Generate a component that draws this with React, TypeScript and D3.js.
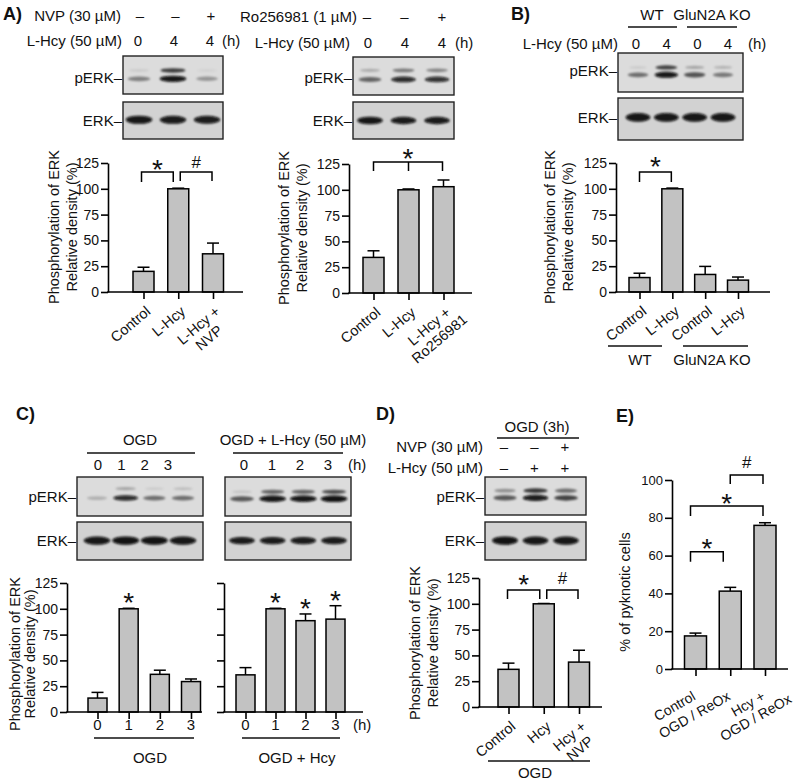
import React, { useEffect, useRef } from "react";
import * as d3 from "d3";

// ================= DATA =================
const ercTicks = [0, 25, 50, 75, 100, 125];
const pyknoticTicks = [0, 20, 40, 60, 80, 100];
const ercTitle = ["Phosphorylation of ERK", "Relative density (%)"];

// Panel A (left)
const aLeftCategories = ["Control", "L-Hcy", "L-Hcy +\nNVP"];
const aLeftValues = [20, 100, 37];
const aLeftErrors = [4, 0.6, 10.4];
const aLeftNvp = ["–", "–", "+"];
const aLeftHcy = ["0", "4", "4"];
const aLeftPerkUpper = [0.08, 0.72, 0.05];
const aLeftPerkLower = [0.42, 0.95, 0.32];
const aLeftErk = [0.95, 0.93, 0.92];

// Panel A (right)
const aRightCategories = ["Control", "L-Hcy", "L-Hcy +\nRo256981"];
const aRightValues = [34.5, 100, 103];
const aRightErrors = [6.4, 0.8, 6.5];
const aRightRo = ["–", "–", "+"];
const aRightHcy = ["0", "4", "4"];
const aRightPerkUpper = [0.22, 0.45, 0.4];
const aRightPerkLower = [0.55, 0.85, 0.82];
const aRightErk = [0.95, 0.93, 0.93];

// Panel B
const bCategories = ["Control", "L-Hcy", "Control", "L-Hcy"];
const bGroups = ["WT", "GluN2A KO"];
const bValues = [14, 100, 17, 11.5];
const bErrors = [4.2, 0.7, 7.8, 3];
const bHcy = ["0", "4", "0", "4"];
const bPerkUpper = [0.08, 0.7, 0.25, 0.18];
const bPerkLower = [0.5, 0.95, 0.62, 0.45];
const bErk = [0.95, 0.95, 0.95, 0.95];

// Panel C
const cTimes = ["0", "1", "2", "3"];
const cGroups = ["OGD", "OGD + Hcy"];
const cBlotGroups = ["OGD", "OGD + L-Hcy (50 µM)"];
const cOgdValues = [13.5, 100, 36.5, 29.5];
const cOgdErrors = [5.5, 0.5, 4, 2.5];
const cOgdStars = [1];
const cHcyValues = [36, 100, 88.5, 90];
const cHcyErrors = [7, 0.5, 6.5, 13];
const cHcyStars = [1, 2, 3];
const cOgdPerkUpper = [0.0, 0.25, 0.08, 0.14];
const cOgdPerkLower = [0.2, 0.85, 0.5, 0.5];
const cHcyPerkUpper = [0.1, 0.55, 0.55, 0.65];
const cHcyPerkLower = [0.6, 0.95, 0.95, 0.97];
const cOgdErk = [0.95, 0.97, 0.97, 0.95];
const cHcyErk = [0.93, 0.93, 0.93, 0.93];

// Panel D
const dCategories = ["Control", "Hcy", "Hcy +\nNVP"];
const dValues = [36.5, 100, 43.5];
const dErrors = [6, 0.3, 11.5];
const dNvp = ["–", "–", "+"];
const dHcy = ["–", "+", "+"];
const dPerkUpper = [0.35, 0.75, 0.5];
const dPerkLower = [0.6, 0.92, 0.7];
const dErk = [0.97, 0.95, 0.95];

// Panel E
const eCategories = ["Control", "OGD / ReOx", "Hcy +\nOGD / ReOx"];
const eValues = [17.5, 41.2, 76];
const eErrors = [1.5, 2, 1.4];

// ================= STYLE =================
const FONT = "'Liberation Sans', Arial, Helvetica, sans-serif";
const BAR_FILL = "#c2c2c2";
const INK = "#111";

type Sel = d3.Selection<any, any, any, any>;

function txt(g: Sel, x: number, y: number, s: string, size = 15, anchor = "start", weight = "normal") {
  return g
    .append("text")
    .attr("x", x)
    .attr("y", y)
    .attr("font-size", size)
    .attr("font-family", FONT)
    .attr("font-weight", weight)
    .attr("text-anchor", anchor)
    .attr("fill", INK)
    .text(s);
}

function hline(g: Sel, x1: number, x2: number, y: number, w = 1.4) {
  g.append("line").attr("x1", x1).attr("x2", x2).attr("y1", y).attr("y2", y).attr("stroke", INK).attr("stroke-width", w);
}

function headerRow(
  g: Sel,
  label: string,
  labelEnd: number,
  baseline: number,
  tokens: string[],
  range: [number, number],
  suffixX?: number
) {
  if (label) txt(g, labelEnd, baseline, label, 15, "end");
  const xp = d3.scalePoint<number>().domain(d3.range(tokens.length)).range(range);
  tokens.forEach((t, i) => txt(g, xp(i) as number, baseline, t, 15, "middle"));
  if (suffixX !== undefined) txt(g, suffixX, baseline, "(h)", 15, "start");
}

interface BlotRow {
  pos: number;
  ry: number;
  values: number[];
}
let clipCounter = 0;
function drawBlot(root: Sel, b: { x: number; y: number; w: number; h: number; bg: string; inset: number; bandW: number; rows: BlotRow[] }) {
  const g = root.append("g");
  const id = "blotclip" + clipCounter++;
  g.append("clipPath").attr("id", id).append("rect").attr("x", b.x).attr("y", b.y).attr("width", b.w).attr("height", b.h);
  g.append("rect").attr("x", b.x).attr("y", b.y).attr("width", b.w).attr("height", b.h).attr("fill", b.bg);
  const n = b.rows[0].values.length;
  const lane = d3.scalePoint<number>().domain(d3.range(n)).range([b.x + b.inset, b.x + b.w - b.inset]);
  const bg = g.append("g").attr("clip-path", `url(#${id})`).append("g").attr("filter", "url(#bandBlur)");
  b.rows.forEach((row) => {
    row.values.forEach((v, i) => {
      if (v <= 0.01) return;
      bg.append("ellipse")
        .attr("cx", lane(i) as number)
        .attr("cy", b.y + row.pos * b.h)
        .attr("rx", (b.bandW / 2) * (0.72 + 0.28 * v))
        .attr("ry", row.ry * (0.55 + 0.45 * v))
        .attr("fill", "#080808")
        .attr("fill-opacity", v);
    });
  });
  g.append("rect")
    .attr("x", b.x)
    .attr("y", b.y)
    .attr("width", b.w)
    .attr("height", b.h)
    .attr("fill", "none")
    .attr("stroke", "#222")
    .attr("stroke-width", 1.4);
}

interface Bracket {
  a: number;
  b: number;
  mid?: number;
  offA: number;
  offB: number;
  top: number;
  drop: number;
  sym: string;
  symGap: number;
}

interface ChartCfg {
  axisX: number;
  xEnd: number;
  y0: number;
  yTop: number;
  yMax: number;
  ticks: number[];
  tickLabels: boolean;
  tickFont: number;
  xRange: [number, number];
  barW: number;
  capW: number;
  values: number[];
  errors: number[];
  labels?: string[];
  labelAngle?: number;
  labelDx?: number;
  labelDy?: number;
  labelFont?: number;
  plainLabels?: string[];
  plainBaseline?: number;
  yTitle?: string[];
  yTitleX?: number[];
  yTitleY?: number;
  yTitleFont?: number;
  brackets?: Bracket[];
  stars?: number[];
}

function symbol(g: Sel, x: number, centerY: number, s: string) {
  if (s === "*") txt(g, x, centerY + 16, "*", 28, "middle");
  else txt(g, x, centerY + 6, s, 17, "middle");
}

function drawChart(root: Sel, c: ChartCfg) {
  const g = root.append("g");
  const y = d3.scaleLinear().domain([0, c.yMax]).range([c.y0, c.yTop]);
  const idx = d3.range(c.values.length);
  const x = d3.scalePoint<number>().domain(idx).range(c.xRange);
  const xc = (i: number) => x(i) as number;

  // error bars
  const eg = g.append("g").attr("stroke", "#000").attr("stroke-width", 1.5);
  c.values.forEach((v, i) => {
    const top = y(v + c.errors[i]);
    eg.append("line").attr("x1", xc(i)).attr("x2", xc(i)).attr("y1", y(v)).attr("y2", top);
    eg.append("line").attr("x1", xc(i) - c.capW / 2).attr("x2", xc(i) + c.capW / 2).attr("y1", top).attr("y2", top);
  });

  // bars
  g.append("g")
    .selectAll("rect")
    .data(c.values)
    .join("rect")
    .attr("x", (_d, i) => xc(i) - c.barW / 2)
    .attr("y", (d) => y(d))
    .attr("width", c.barW)
    .attr("height", (d) => c.y0 - y(d))
    .attr("fill", BAR_FILL)
    .attr("stroke", "#000")
    .attr("stroke-width", 1.5);

  // y axis
  const yAxis = d3
    .axisLeft(y)
    .tickValues(c.ticks)
    .tickSize(7)
    .tickSizeOuter(0)
    .tickPadding(2)
    .tickFormat(c.tickLabels ? (d3.format("d") as any) : () => "");
  const ya = g.append("g").attr("transform", `translate(${c.axisX},0)`).call(yAxis as any);
  ya.attr("font-size", null).attr("font-family", null);
  ya.selectAll("path,line").attr("stroke", "#000").attr("stroke-width", 1.6);
  ya.selectAll("text").attr("font-size", c.tickFont).attr("font-family", FONT).attr("fill", INK);

  // x axis
  g.append("line")
    .attr("x1", c.axisX - 0.8)
    .attr("x2", c.xEnd)
    .attr("y1", c.y0)
    .attr("y2", c.y0)
    .attr("stroke", "#000")
    .attr("stroke-width", 1.6);
  const xAxis = d3.axisBottom(x).tickSize(7).tickSizeOuter(0).tickFormat(() => "");
  const xa = g.append("g").attr("transform", `translate(0,${c.y0})`).call(xAxis as any);
  xa.select(".domain").remove();
  xa.selectAll("line").attr("stroke", "#000").attr("stroke-width", 1.6);

  // rotated category labels: first line ends at the anchor, other lines centred on it
  if (c.labels) {
    const fs = c.labelFont ?? 14;
    c.labels.forEach((lab, i) => {
      const lines = lab.split("\n");
      const lg = g
        .append("g")
        .attr("transform", `translate(${xc(i) + (c.labelDx ?? 0)},${c.y0 + (c.labelDy ?? 0)}) rotate(${c.labelAngle ?? -40})`);
      const ts = lines.map((ln, k) => txt(lg, 0, k * fs * 1.12, ln, fs, "middle"));
      const w1 = (ts[0].node() as SVGTextElement).getComputedTextLength();
      ts.forEach((t) => t.attr("x", -w1 / 2));
    });
  }
  if (c.plainLabels) {
    c.plainLabels.forEach((lab, i) => txt(g, xc(i), c.plainBaseline ?? c.y0 + 18, lab, 15, "middle"));
  }

  // y title
  if (c.yTitle && c.yTitleX) {
    c.yTitle.forEach((t, k) => {
      g.append("text")
        .attr("transform", `translate(${c.yTitleX![k]},${c.yTitleY}) rotate(-90)`)
        .attr("text-anchor", "middle")
        .attr("font-size", c.yTitleFont ?? 14.5)
        .attr("font-family", FONT)
        .attr("fill", INK)
        .text(t);
    });
  }

  // brackets
  (c.brackets ?? []).forEach((br) => {
    const xa1 = xc(br.a) + br.offA;
    const xb1 = xc(br.b) + br.offB;
    const yt = y(br.top);
    let d = `M${xa1},${yt + br.drop}V${yt}H${xb1}V${yt + br.drop}`;
    if (br.mid !== undefined) d += `M${xc(br.mid)},${yt}V${yt + br.drop}`;
    g.append("path").attr("d", d).attr("fill", "none").attr("stroke", "#000").attr("stroke-width", 1.5);
    symbol(g, (xa1 + xb1) / 2, yt - br.symGap, br.sym);
  });

  // stars above bars
  (c.stars ?? []).forEach((i) => {
    symbol(g, xc(i), y(c.values[i] + c.errors[i]) - 12, "*");
  });
  return { x, y };
}

export default function App() {
  const ref = useRef<SVGSVGElement>(null);
  useEffect(() => {
    const svg = d3.select(ref.current as SVGSVGElement);
    svg.selectAll("*").remove();
    const defs = svg.append("defs");
    defs
      .append("filter")
      .attr("id", "bandBlur")
      .attr("x", "-50%")
      .attr("y", "-100%")
      .attr("width", "200%")
      .attr("height", "300%")
      .append("feGaussianBlur")
      .attr("stdDeviation", 1.2);
    svg.append("rect").attr("width", 800).attr("height", 780).attr("fill", "#fff");
    const root = svg.append("g");
    clipCounter = 0;

    const perkBg = "#dcdcdc";
    const erkBg = "#d2d2d2";

    // ---------- panel letters ----------
    txt(root, 3, 20, "A)", 18, "start", "bold");
    txt(root, 511, 20, "B)", 18, "start", "bold");
    txt(root, 16, 420, "C)", 18, "start", "bold");
    txt(root, 376, 420, "D)", 18, "start", "bold");
    txt(root, 616, 422, "E)", 18, "start", "bold");

    // ---------- A left ----------
    headerRow(root, "NVP (30 µM)", 121, 21, aLeftNvp, [140, 211]);
    headerRow(root, "L-Hcy (50 µM)", 122, 46, aLeftHcy, [138, 210], 222);
    drawBlot(root, {
      x: 123, y: 56, w: 100, h: 38, bg: perkBg, inset: 16, bandW: 27,
      rows: [
        { pos: 0.38, ry: 2.6, values: aLeftPerkUpper },
        { pos: 0.6, ry: 3.2, values: aLeftPerkLower },
      ],
    });
    drawBlot(root, { x: 123, y: 102, w: 100, h: 37, bg: erkBg, inset: 16, bandW: 27, rows: [{ pos: 0.48, ry: 4.2, values: aLeftErk }] });
    txt(root, 122, 83, "pERK–", 15, "end");
    txt(root, 122, 126, "ERK–", 15, "end");
    drawChart(root, {
      axisX: 108, xEnd: 243, y0: 292, yTop: 163, yMax: 125, ticks: ercTicks, tickLabels: true, tickFont: 14,
      xRange: [143.5, 213], barW: 21, capW: 12, values: aLeftValues, errors: aLeftErrors,
      labels: aLeftCategories, labelAngle: -40, labelDx: 8, labelDy: 21, labelFont: 14.5,
      yTitle: ercTitle, yTitleX: [59, 77], yTitleY: 227,
      brackets: [
        { a: 0, b: 1, offA: -2, offB: -5, top: 116.3, drop: 10, sym: "*", symGap: 9 },
        { a: 1, b: 2, offA: 2, offB: -1, top: 116.3, drop: 9, sym: "#", symGap: 10 },
      ],
    });

    // ---------- A right ----------
    headerRow(root, "Ro256981 (1 µM)", 357, 22, aRightRo, [367, 442]);
    headerRow(root, "L-Hcy (50 µM)", 350, 48, aRightHcy, [368, 442], 455);
    drawBlot(root, {
      x: 353, y: 57, w: 101, h: 38, bg: perkBg, inset: 17, bandW: 26,
      rows: [
        { pos: 0.35, ry: 2.5, values: aRightPerkUpper },
        { pos: 0.59, ry: 3.1, values: aRightPerkLower },
      ],
    });
    drawBlot(root, { x: 353, y: 102, w: 101, h: 37, bg: erkBg, inset: 17, bandW: 26, rows: [{ pos: 0.5, ry: 3.8, values: aRightErk }] });
    txt(root, 352, 83, "pERK–", 15, "end");
    txt(root, 352, 126, "ERK–", 15, "end");
    drawChart(root, {
      axisX: 349, xEnd: 472, y0: 293, yTop: 164, yMax: 125, ticks: ercTicks, tickLabels: true, tickFont: 14,
      xRange: [373.5, 443.5], barW: 21, capW: 12, values: aRightValues, errors: aRightErrors,
      labels: aRightCategories, labelAngle: -40, labelDx: 8, labelDy: 21, labelFont: 14.5,
      yTitle: ercTitle, yTitleX: [289, 307], yTitleY: 228,
      brackets: [{ a: 0, b: 2, mid: 1, offA: 0, offB: -1, top: 127, drop: 9, sym: "*", symGap: 10 }],
    });

    // ---------- B ----------
    txt(root, 652, 20, bGroups[0], 15, "middle");
    txt(root, 712, 20, bGroups[1], 15, "middle");
    hline(root, 628, 677, 27);
    hline(root, 687, 737, 27);
    headerRow(root, "L-Hcy (50 µM)", 618, 49, bHcy, [636, 728], 748);
    drawBlot(root, {
      x: 618, y: 53, w: 125, h: 39, bg: perkBg, inset: 20, bandW: 24,
      rows: [
        { pos: 0.37, ry: 2.5, values: bPerkUpper },
        { pos: 0.56, ry: 3.1, values: bPerkLower },
      ],
    });
    drawBlot(root, { x: 618, y: 98, w: 125, h: 42, bg: erkBg, inset: 20, bandW: 25, rows: [{ pos: 0.46, ry: 4.5, values: bErk }] });
    txt(root, 617, 76, "pERK–", 15, "end");
    txt(root, 617, 123, "ERK–", 15, "end");
    drawChart(root, {
      axisX: 616, xEnd: 770, y0: 292, yTop: 163, yMax: 125, ticks: ercTicks, tickLabels: true, tickFont: 14,
      xRange: [639.5, 738], barW: 21, capW: 12, values: bValues, errors: bErrors,
      labels: bCategories, labelAngle: -38, labelDx: 8, labelDy: 21, labelFont: 14.5,
      yTitle: ercTitle, yTitleX: [555, 573], yTitleY: 227,
      brackets: [{ a: 0, b: 1, offA: 0, offB: -1, top: 116.3, drop: 10, sym: "*", symGap: 12 }],
    });
    hline(root, 608, 662, 346);
    hline(root, 683, 748, 346);
    txt(root, 640, 365, bGroups[0], 15, "middle");
    txt(root, 712, 365, bGroups[1], 15, "middle");

    // ---------- C ----------
    txt(root, 140, 445, cBlotGroups[0], 15, "middle");
    txt(root, 293, 445, cBlotGroups[1], 15, "middle");
    hline(root, 87, 195, 453);
    hline(root, 233, 343, 453);
    headerRow(root, "", 0, 470, cTimes, [98, 168]);
    headerRow(root, "", 0, 470, cTimes, [244, 328], 348);
    drawBlot(root, {
      x: 77, y: 477, w: 126, h: 39, bg: perkBg, inset: 20, bandW: 26,
      rows: [
        { pos: 0.3, ry: 2.4, values: cOgdPerkUpper },
        { pos: 0.54, ry: 3.0, values: cOgdPerkLower },
      ],
    });
    drawBlot(root, {
      x: 225, y: 477, w: 126, h: 39, bg: perkBg, inset: 17, bandW: 27,
      rows: [
        { pos: 0.38, ry: 2.6, values: cHcyPerkUpper },
        { pos: 0.56, ry: 3.3, values: cHcyPerkLower },
      ],
    });
    drawBlot(root, { x: 77, y: 522, w: 126, h: 38, bg: erkBg, inset: 20, bandW: 27, rows: [{ pos: 0.49, ry: 4.3, values: cOgdErk }] });
    drawBlot(root, { x: 225, y: 522, w: 126, h: 38, bg: erkBg, inset: 17, bandW: 26, rows: [{ pos: 0.49, ry: 3.8, values: cHcyErk }] });
    txt(root, 76, 502, "pERK–", 15, "end");
    txt(root, 76, 546, "ERK–", 15, "end");
    drawChart(root, {
      axisX: 67, xEnd: 202, y0: 712, yTop: 583, yMax: 125, ticks: ercTicks, tickLabels: true, tickFont: 14,
      xRange: [97.5, 191], barW: 19, capW: 12, values: cOgdValues, errors: cOgdErrors,
      plainLabels: cTimes, plainBaseline: 730,
      yTitle: ercTitle, yTitleX: [20, 35], yTitleY: 654,
      stars: cOgdStars,
    });
    drawChart(root, {
      axisX: 224, xEnd: 363, y0: 712, yTop: 583, yMax: 125, ticks: ercTicks, tickLabels: false, tickFont: 14,
      xRange: [245.5, 335.5], barW: 19, capW: 12, values: cHcyValues, errors: cHcyErrors,
      plainLabels: cTimes, plainBaseline: 730,
      stars: cHcyStars,
    });
    txt(root, 353, 730, "(h)", 15, "start");
    hline(root, 94, 194, 738);
    hline(root, 242, 340, 738);
    txt(root, 150, 763, cGroups[0], 15, "middle");
    txt(root, 297, 763, cGroups[1], 15, "middle");

    // ---------- D ----------
    txt(root, 537, 432, "OGD (3h)", 15, "middle");
    hline(root, 497, 579, 438);
    headerRow(root, "NVP (30 µM)", 483, 452, dNvp, [504, 565]);
    headerRow(root, "L-Hcy (50 µM)", 483, 473, dHcy, [504, 565]);
    drawBlot(root, {
      x: 485, y: 477, w: 101, h: 38, bg: perkBg, inset: 20, bandW: 26,
      rows: [
        { pos: 0.36, ry: 2.7, values: dPerkUpper },
        { pos: 0.55, ry: 3.2, values: dPerkLower },
      ],
    });
    drawBlot(root, { x: 485, y: 522, w: 101, h: 38, bg: erkBg, inset: 20, bandW: 26, rows: [{ pos: 0.49, ry: 4.3, values: dErk }] });
    txt(root, 484, 502, "pERK–", 15, "end");
    txt(root, 484, 546, "ERK–", 15, "end");
    drawChart(root, {
      axisX: 479, xEnd: 602, y0: 707, yTop: 578, yMax: 125, ticks: ercTicks, tickLabels: true, tickFont: 14,
      xRange: [508.5, 579], barW: 21, capW: 12, values: dValues, errors: dErrors,
      labels: dCategories, labelAngle: -40, labelDx: 8, labelDy: 21, labelFont: 14.5,
      yTitle: ercTitle, yTitleX: [420, 438], yTitleY: 643,
      brackets: [
        { a: 0, b: 1, offA: -1, offB: -4, top: 113.4, drop: 9, sym: "*", symGap: 12 },
        { a: 1, b: 2, offA: 3, offB: -1, top: 113.4, drop: 9, sym: "#", symGap: 12 },
      ],
    });
    hline(root, 488, 590, 761);
    txt(root, 535, 778, "OGD", 15, "middle");

    // ---------- E ----------
    drawChart(root, {
      axisX: 672, xEnd: 788, y0: 669, yTop: 480, yMax: 100, ticks: pyknoticTicks, tickLabels: true, tickFont: 13,
      xRange: [695.5, 765], barW: 22, capW: 12, values: eValues, errors: eErrors,
      labels: eCategories, labelAngle: -30, labelDx: 1, labelDy: 30, labelFont: 14,
      yTitle: ["% of pyknotic cells"], yTitleX: [630], yTitleY: 592, yTitleFont: 14.5,
      brackets: [
        { a: 0, b: 1, offA: -5, offB: -7, top: 62, drop: 10, sym: "*", symGap: 10 },
        { a: 0, b: 2, offA: -5, offB: -2, top: 86.2, drop: 10, sym: "*", symGap: 9 },
        { a: 1, b: 2, offA: 0, offB: -2, top: 102.6, drop: 9, sym: "#", symGap: 13 },
      ],
    });
  }, []);
  return (
    <svg
      ref={ref}
      width={800}
      height={780}
      style={{ position: "absolute", left: 0, top: 0, background: "#fff" }}
    />
  );
}
